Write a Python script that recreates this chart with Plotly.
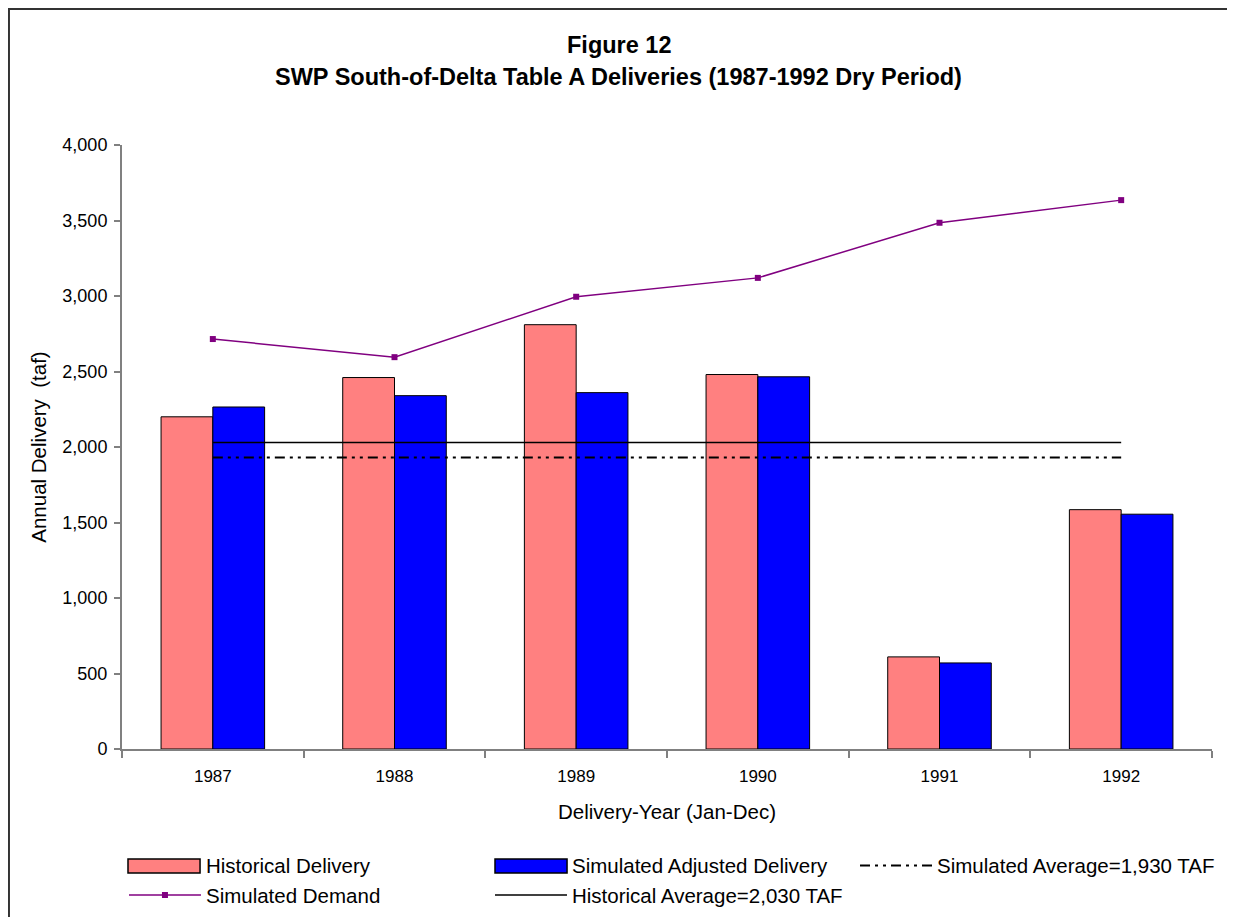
import plotly.graph_objects as go

years = ["1987", "1988", "1989", "1990", "1991", "1992"]
historical = [2200, 2460, 2810, 2480, 610, 1585]
simulated = [2265, 2340, 2360, 2465, 570, 1555]
demand = [2715, 2595, 2995, 3120, 3485, 3635]
sim_avg = 1930
hist_avg = 2030

FONT = "Liberation Sans, Arial, sans-serif"
PINK = "#FF8080"
BLUE = "#0000FF"

fig = go.Figure()
fig.add_trace(go.Bar(x=years, y=historical, name="Historical Delivery", showlegend=False,
                     marker=dict(color=PINK, line=dict(color="black", width=1))))
fig.add_trace(go.Bar(x=years, y=simulated, name="Simulated Adjusted Delivery", showlegend=False,
                     marker=dict(color=BLUE, line=dict(color="black", width=1))))
fig.add_trace(go.Scatter(x=years, y=[sim_avg] * len(years), mode="lines",
                         name="Simulated Average=1,930 TAF", legend="legend3", legendgroup="c",
                         line=dict(color="black", width=2, dash="10px,5px,3px,5px,3px,5px")))
fig.add_trace(go.Scatter(x=years, y=demand, mode="lines+markers", name="Simulated Demand",
                         legend="legend", legendgroup="d",
                         line=dict(color="#800080", width=1.5),
                         marker=dict(symbol="square", size=6, color="#800080")))
fig.add_trace(go.Scatter(x=years, y=[hist_avg] * len(years), mode="lines",
                         name="Historical Average=2,030 TAF", legend="legend2", legendgroup="e",
                         line=dict(color="black", width=1.5)))
# legend entries for the bar series (swatches drawn as wide rectangles below)
fig.add_trace(go.Scatter(x=[None], y=[None], mode="lines", name="Historical Delivery",
                         legend="legend", legendgroup="a", legendrank=1,
                         line=dict(color="rgba(0,0,0,0)")))
fig.add_trace(go.Scatter(x=[None], y=[None], mode="lines", name="Simulated Adjusted Delivery",
                         legend="legend2", legendgroup="b", legendrank=1,
                         line=dict(color="rgba(0,0,0,0)")))

leg_common = dict(orientation="v", yanchor="top", xanchor="left", y=-0.16,
                  font=dict(size=20.5, family=FONT, color="black"), itemwidth=72,
                  tracegroupgap=7, bgcolor="rgba(0,0,0,0)", traceorder="normal")

swatch = dict(type="rect", xref="paper", yref="paper", y0=-0.1821, y1=-0.2053,
              line=dict(color="black", width=1.5), layer="above")

fig.update_layout(
    width=1235, height=917,
    margin=dict(l=114, r=31, t=137, b=176, autoexpand=False),
    paper_bgcolor="white", plot_bgcolor="white",
    font=dict(family=FONT, color="black", size=17),
    barmode="group", bargap=0.43, bargroupgap=0,
    showlegend=True,
    legend=dict(x=0.0018, **leg_common),
    legend2=dict(x=0.3376, **leg_common),
    legend3=dict(x=0.6725, **leg_common),
    annotations=[
        dict(text="<b>Figure 12</b>", xref="paper", yref="paper", x=0.4557, y=1.1656,
             xanchor="center", yanchor="middle", showarrow=False, font=dict(size=23.5)),
        dict(text="<b>SWP South-of-Delta Table A Deliveries (1987-1992 Dry Period)</b>",
             xref="paper", yref="paper", x=0.4557, y=1.1126,
             xanchor="center", yanchor="middle", showarrow=False, font=dict(size=23.5)),
    ],
    shapes=[
        dict(type="rect", xref="paper", yref="paper", x0=-0.1037, x1=1.0193,
             y0=-0.35, y1=1.2252, line=dict(color="#333333", width=2), layer="below"),
        dict(x0=0.0055, x1=0.0716, fillcolor=PINK, **swatch),
        dict(x0=0.3422, x1=0.4083, fillcolor=BLUE, **swatch),
    ],
)

fig.update_xaxes(
    type="category", showline=True, linecolor="#808080", linewidth=2,
    ticks="outside", tickson="boundaries", ticklen=7, tickcolor="#808080", tickwidth=2,
    showgrid=False, ticklabelstandoff=11,
    tickfont=dict(size=17),
    title=dict(text="Delivery-Year (Jan-Dec)", font=dict(size=20.5), standoff=19),
)
fig.update_yaxes(
    range=[0, 4000], tickvals=[0, 500, 1000, 1500, 2000, 2500, 3000, 3500, 4000],
    tickformat=",", showline=True, linecolor="#808080", linewidth=2,
    ticks="outside", ticklen=6, tickcolor="#808080", tickwidth=2,
    showgrid=False, zeroline=False, tickfont=dict(size=18), ticklabelstandoff=3,
    title=dict(text="Annual Delivery  (taf)", font=dict(size=20.5), standoff=10),
)

fig.write_html("out.html")
